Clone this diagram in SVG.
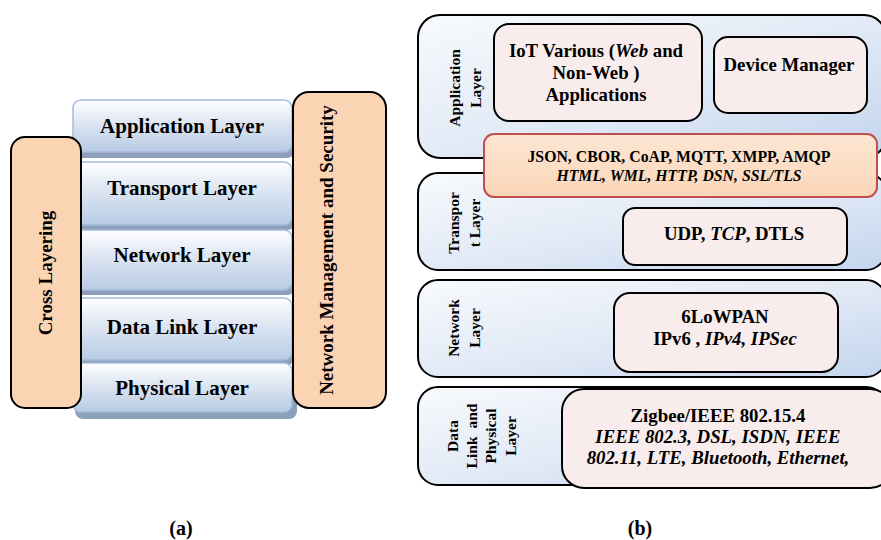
<svg xmlns="http://www.w3.org/2000/svg" width="881" height="540" viewBox="0 0 881 540">
  <defs>
    <linearGradient id="layerFill" x1="0" y1="0" x2="0" y2="1">
      <stop offset="0" stop-color="#FFFFFF"/>
      <stop offset="0.45" stop-color="#DCE5F2"/>
      <stop offset="1" stop-color="#B8CBE4"/>
    </linearGradient>
    <linearGradient id="stackFill" x1="0" y1="0" x2="1" y2="1">
      <stop offset="0" stop-color="#F8FAFD"/>
      <stop offset="0.5" stop-color="#E2EAF6"/>
      <stop offset="1" stop-color="#C3D5EE"/>
    </linearGradient>
    <linearGradient id="protoFill" x1="0" y1="0" x2="0" y2="1">
      <stop offset="0" stop-color="#FDE6D3"/>
      <stop offset="1" stop-color="#FBD6B8"/>
    </linearGradient>
  </defs>
  <style>
    text { font-family: "Liberation Serif", "Times New Roman", serif; font-weight: bold; fill: #000; }
    .layer { fill: url(#layerFill); stroke: #A3BCDD; stroke-width: 1.5; }
    .shadow { fill: #8E9FB9; }
    .side { fill: #FBD4B4; stroke: #000; stroke-width: 2; }
    .stack { fill: url(#stackFill); stroke: #000; stroke-width: 2; }
    .item { fill: #F9ECEC; stroke: #000; stroke-width: 2; }
    .proto { fill: url(#protoFill); stroke: #C0504D; stroke-width: 2; }
    .lbl { font-size: 21px; text-anchor: middle; }
    .side-t { font-size: 19px; text-anchor: middle; }
    .vt { font-size: 15.5px; text-anchor: middle; }
    .it { font-size: 18.8px; text-anchor: middle; }
    .pt { font-size: 15.8px; text-anchor: middle; }
    .cap { font-size: 20px; text-anchor: middle; }
    .i { font-style: italic; }
  </style>

  <!-- (a) layered stack -->
  <g id="a-application">
    <rect class="shadow" x="75" y="104" width="220" height="54" rx="8"/>
    <rect class="layer" x="73" y="100" width="219" height="52" rx="8"/>
    <text class="lbl" x="182" y="133">Application Layer</text>
  </g>
  <g id="a-transport">
    <rect class="shadow" x="75" y="166" width="220" height="64" rx="8"/>
    <rect class="layer" x="73" y="162" width="219" height="63" rx="8"/>
    <text class="lbl" x="182" y="195">Transport Layer</text>
  </g>
  <g id="a-network">
    <rect class="shadow" x="75" y="234" width="220" height="61" rx="8"/>
    <rect class="layer" x="73" y="230" width="219" height="60" rx="8"/>
    <text class="lbl" x="182" y="262">Network Layer</text>
  </g>
  <g id="a-datalink">
    <rect class="shadow" x="75" y="302" width="220" height="63" rx="8"/>
    <rect class="layer" x="73" y="298" width="219" height="62" rx="8"/>
    <text class="lbl" x="182" y="334">Data Link Layer</text>
  </g>
  <g id="a-physical">
    <rect class="shadow" x="75" y="367" width="222" height="52" rx="8"/>
    <rect class="layer" x="73" y="363" width="219" height="49" rx="8"/>
    <text class="lbl" x="182" y="395">Physical Layer</text>
  </g>
  <g id="a-cross">
    <rect class="side" x="11" y="137" width="70" height="271" rx="14"/>
    <text class="side-t" transform="translate(52,273) rotate(-90)">Cross Layering</text>
  </g>
  <g id="a-security">
    <rect class="side" x="293" y="92" width="93" height="316" rx="16"/>
    <text class="side-t" transform="translate(333,250) rotate(-90)">Network Management and Security</text>
  </g>

  <!-- (b) IoT protocol stack -->
  <g id="b-application">
    <rect class="stack" x="418" y="15" width="468" height="143" rx="22"/>
    <text class="vt" transform="translate(460,88) rotate(-90)">Application</text>
    <text class="vt" transform="translate(481,88) rotate(-90)">Layer</text>
  </g>
  <g id="b-iot-apps">
    <rect class="item" x="494" y="24" width="208" height="97" rx="15"/>
    <text class="it" x="596" y="57">IoT Various (<tspan class="i">Web</tspan> and</text>
    <text class="it" x="596" y="79">Non-Web )</text>
    <text class="it" x="596" y="101">Applications</text>
  </g>
  <g id="b-device-manager">
    <rect class="item" x="714" y="37" width="153" height="76" rx="14"/>
    <text class="it" x="789" y="71">Device Manager</text>
  </g>
  <g id="b-transport">
    <rect class="stack" x="418" y="173" width="468" height="97" rx="20"/>
    <text class="vt" transform="translate(459,223) rotate(-90)">Transpor</text>
    <text class="vt" transform="translate(480,223) rotate(-90)">t Layer</text>
  </g>
  <g id="b-protocols">
    <rect class="proto" x="484" y="134" width="393" height="63" rx="10"/>
    <text class="pt" x="679" y="162">JSON, CBOR, CoAP, MQTT, XMPP, AMQP</text>
    <text class="pt i" x="679" y="181">HTML, WML, HTTP, DSN, SSL/TLS</text>
  </g>
  <g id="b-transport-protocols">
    <rect class="item" x="623" y="208" width="224" height="57" rx="12"/>
    <text class="it" x="734" y="240">UDP, <tspan class="i">TCP</tspan>, DTLS</text>
  </g>
  <g id="b-network">
    <rect class="stack" x="418" y="280" width="468" height="97" rx="20"/>
    <text class="vt" transform="translate(459,328) rotate(-90)">Network</text>
    <text class="vt" transform="translate(480,328) rotate(-90)">Layer</text>
  </g>
  <g id="b-network-protocols">
    <rect class="item" x="614" y="293" width="224" height="79" rx="16"/>
    <text class="it" x="725" y="323">6LoWPAN</text>
    <text class="it" x="725" y="345">IPv6 , <tspan class="i">IPv4, IPSec</tspan></text>
  </g>
  <g id="b-link">
    <rect class="stack" x="418" y="387" width="468" height="98" rx="20"/>
    <text class="vt" transform="translate(458,436) rotate(-90)">Data</text>
    <text class="vt" transform="translate(477,436) rotate(-90)" style="word-spacing:4px">Link and</text>
    <text class="vt" transform="translate(496,436) rotate(-90)">Physical</text>
    <text class="vt" transform="translate(516,436) rotate(-90)">Layer</text>
  </g>
  <g id="b-link-protocols">
    <rect class="item" x="562" y="389" width="330" height="99" rx="22"/>
    <text class="it" x="718" y="422">Zigbee/IEEE 802.15.4</text>
    <text class="it i" x="718" y="443">IEEE 802.3, DSL, ISDN, IEEE</text>
    <text class="it i" x="718" y="464">802.11, LTE, Bluetooth, Ethernet,</text>
  </g>

  <!-- captions -->
  <text class="cap" x="181" y="535">(a)</text>
  <text class="cap" x="640" y="535">(b)</text>
</svg>
